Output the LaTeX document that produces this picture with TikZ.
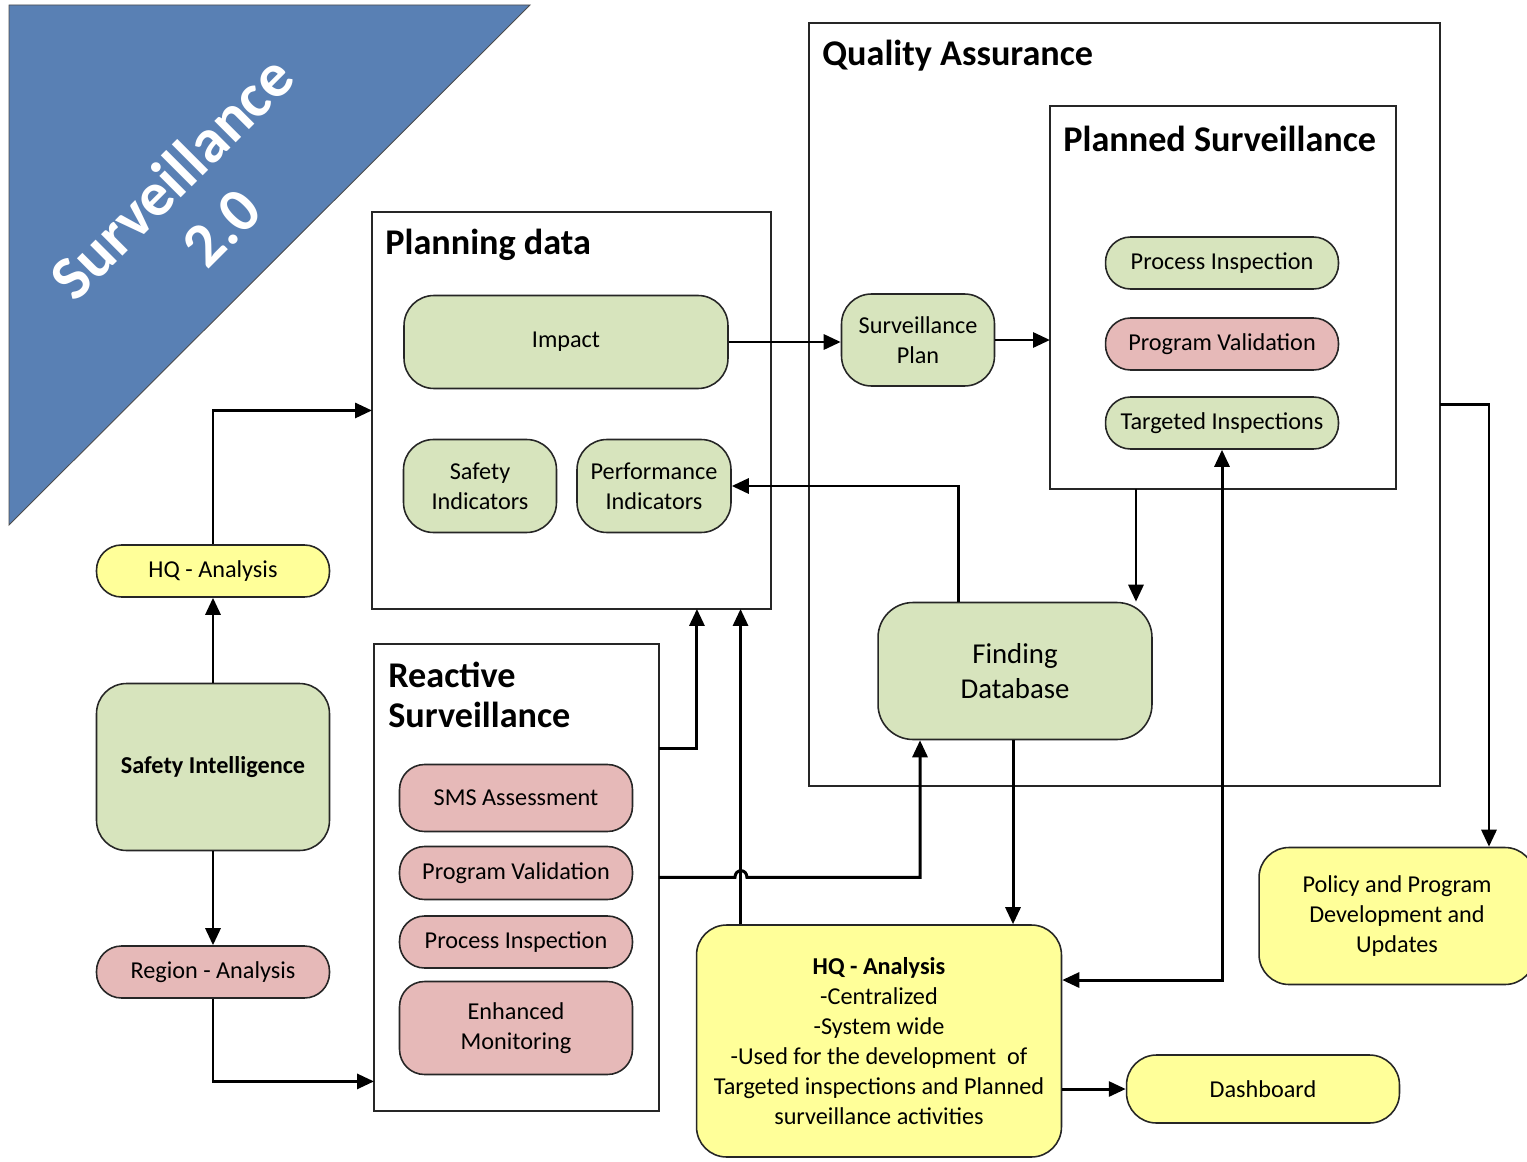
\documentclass[tikz,border=0pt]{standalone}
\usepackage{fontspec}
\setmainfont{Carlito}
\usetikzlibrary{arrows.meta,positioning}
\definecolor{boxgreen}{RGB}{215,228,189}
\definecolor{boxred}{RGB}{230,185,184}
\definecolor{boxyellow}{RGB}{255,255,153}
\definecolor{cornerblue}{RGB}{89,128,180}
\tikzset{
  >={Triangle[length=0.34cm,width=0.3cm]},
  box/.style={draw=black!85, line width=0.9pt, rounded corners=0.6cm, align=center,
    inner sep=2pt, font=\fontsize{13.8}{17}\selectfont},
  pill/.style={box, rounded corners=0.5cm, minimum width=4.66cm},
  frame/.style={draw=black!85, line width=0.8pt, inner sep=0pt, outer sep=0pt, anchor=north west},
  heading/.style={anchor=west, inner sep=0pt, align=left, font=\fontsize{20.6}{23}\selectfont\bfseries},
  conn/.style={line width=1.7pt, ->},
}
\begin{document}
\begin{tikzpicture}[x=0.02cm,y=-0.02cm]
    \useasboundingbox (0,0) rectangle (1527,1162);
    % corner banner
    \filldraw[fill=cornerblue, draw=black!70, line width=0.5pt](9,5)--(530,5)--(9,525)--cycle;
    \node[rotate=45, text=white, align=center, font=\fontsize{35.5}{40}\selectfont\bfseries] (banner) at (196,202) {Surveillance\\2.0};

    % containers
    \node[frame, minimum width=7.98cm, minimum height=7.94cm] (pdbox) at (372,212) {};
    \node[frame, minimum width=12.62cm, minimum height=15.26cm] (qabox) at (809,23) {};
    \node[frame, minimum width=6.92cm, minimum height=7.66cm] (psbox) at (1050,106) {};
    \node[frame, minimum width=5.7cm, minimum height=9.34cm] (rsbox) at (374,644) {};
    \node[heading] (pdtitle) at (385,245) {Planning data};
    \node[heading] (qatitle) at (822,56) {Quality Assurance};
    \node[heading] (pstitle) at (1063,139) {Planned Surveillance};
    \node[heading] (rstitle) at (388,695) {Reactive\\Surveillance};

    % planning data
    \node[box, fill=boxgreen, minimum width=6.48cm, minimum height=1.86cm] (impact) at (566,342) {Impact};
    \node[box, fill=boxgreen, minimum width=3.06cm, minimum height=1.86cm] (safety) at (480,486) {Safety\\Indicators};
    \node[box, fill=boxgreen, minimum width=3.08cm, minimum height=1.86cm] (perf) at (654,486) {Performance\\Indicators};
    \node[box, fill=boxgreen, minimum width=3.06cm, minimum height=1.84cm] (plan) at (918,340) {Surveillance\\Plan};

    % planned surveillance
    \foreach \n/\y/\c/\t in {procA/263/boxgreen/Process Inspection,
        progA/344/boxred/Program Validation,
        targA/423/boxgreen/Targeted Inspections}{
        \node[pill, fill=\c, minimum height=1.04cm] (\n) at (1222,\y) {\t};
    }
    \node[box, fill=boxgreen, minimum width=5.48cm, minimum height=2.74cm, rounded corners=0.7cm,
      font=\fontsize{16.4}{20}\selectfont] (finding) at (1015,671) {Finding\\Database};

    % reactive surveillance
    \foreach \n/\y/\h/\t in {sms/798/1.34cm/SMS Assessment,
        progB/873/1.06cm/Program Validation,
        procB/942/1.04cm/Process Inspection,
        monitor/1028/1.86cm/Enhanced\\Monitoring}{
        \node[pill, fill=boxred, minimum height=\h] (\n) at (516,\y) {\t};
    }

    % left column
    \node[pill, fill=boxyellow, minimum height=1.04cm] (hqleft) at (213,571) {HQ - Analysis};
    \node[box, fill=boxgreen, minimum width=4.66cm, minimum height=3.34cm] (intel) at (213,767) {\bfseries Safety Intelligence};
    \node[pill, fill=boxred, minimum height=1.04cm] (region) at (213,972) {Region - Analysis};

    % outputs
    \node[box, fill=boxyellow, minimum width=7.3cm, minimum height=4.64cm] (hqmain) at (879,1041)
      {\textbf{HQ - Analysis}\\-Centralized\\-System wide\\-Used for the development~ of\\Targeted inspections and Planned\\surveillance activities};
    \node[box, fill=boxyellow, minimum width=5.46cm, minimum height=1.36cm] (dash) at (1263,1089) {Dashboard};
    \node[box, fill=boxyellow, minimum width=5.52cm, minimum height=2.74cm] (policy) at (1397,916) {Policy and Program\\Development and\\Updates};

    % connectors
    \draw[conn](hqleft.north)|-(pdbox.west);
    \draw[conn](intel.north)--(hqleft.south);
    \draw[conn](intel.south)--(region.north);
    \draw[conn](region.south)|-([yshift=-4.08cm]rsbox.west);
    \draw[conn]([yshift=2.57cm]rsbox.east)-|([xshift=2.51cm]pdbox.south);
    \draw[conn]([xshift=-2.77cm]hqmain.north)--([xshift=-2.77cm]hqmain.north |- pdbox.south);
    \draw[conn](rsbox.east)--++(76,0) .. controls +(0,-9) and +(0,-9) .. ++(12,0)-|([xshift=-1.9cm]finding.south);
    \draw[conn](impact.east)--(impact.east -| plan.west);
    \draw[conn](plan.east)--(plan.east -| psbox.west);
    \draw[conn]([xshift=-1.14cm]finding.north)|-(perf.east);
    \draw[conn]([xshift=-1.74cm]psbox.south)--([xshift=-1.74cm]psbox.south |- finding.north);
    \draw[conn]([xshift=-0.04cm]finding.south)--([xshift=-0.04cm]finding.south |- hqmain.north);
    \draw[conn,<->]([yshift=1.22cm]hqmain.east)-|(targA.south);
    \draw[conn](qabox.east)-|([xshift=1.84cm]policy.north);
    \draw[conn](hqmain.east |- dash.west)--(dash.west);
\end{tikzpicture}
\end{document}
